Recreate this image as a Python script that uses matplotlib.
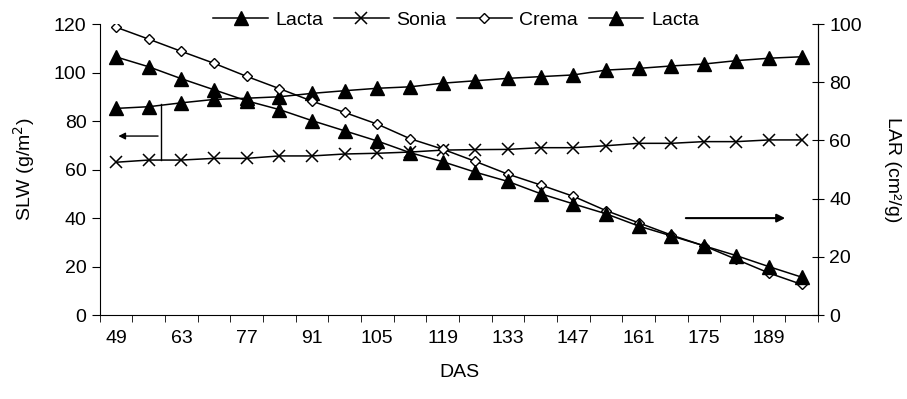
import matplotlib.pyplot as plt
import numpy as np

plt.rcParams['font.family'] = ['Liberation Sans', 'DejaVu Sans']
plt.rcParams['font.size'] = 14

das = list(range(49, 197, 7))

# SLW (left axis)
lacta_slw = [85.2, 85.9, 87.5, 88.9, 89.4, 90.0, 91.4, 92.5, 93.5, 94.1, 95.6, 96.6,
             97.6, 98.3, 99.0, 101.0, 101.7, 102.7, 103.5, 104.9, 105.9, 106.5]
sonia_slw = [63.0, 63.9, 63.9, 64.6, 64.6, 65.6, 65.6, 66.4, 66.7, 67.2, 68.0, 68.2,
             68.3, 69.0, 69.0, 69.8, 70.8, 70.8, 71.5, 71.5, 72.2, 72.2]
# LAR (right axis)
crema_lar = [98.9, 94.8, 90.6, 86.5, 82.0, 77.8, 73.5, 69.6, 65.6, 60.6, 57.0, 52.8,
             48.4, 44.7, 40.8, 35.9, 31.7, 27.5, 23.8, 19.1, 14.4, 10.5]
lacta_lar = [88.7, 85.3, 81.2, 77.4, 73.6, 70.6, 66.8, 63.3, 59.8, 55.8, 52.7, 49.1,
             45.9, 41.7, 38.2, 34.8, 30.6, 27.2, 23.8, 20.4, 16.6, 13.0]

x = np.arange(len(das))

fig = plt.figure(figsize=(9.07, 3.99), dpi=100)
ax = fig.add_axes([0.110, 0.2105, 0.792, 0.7293])
ax2 = ax.twinx()

l1, = ax.plot(x, lacta_slw, 'k-', marker='^', ms=9.5, lw=1.1, label='Lacta')
l2, = ax.plot(x, sonia_slw, 'k-', marker='x', ms=8.5, mew=1.1, lw=1.1, label='Sonia')
l3, = ax2.plot(x, crema_lar, 'k-', marker='D', ms=5.5, mfc='white', mew=1, lw=1.1, label='Crema')
l4, = ax2.plot(x, lacta_lar, 'k-', marker='^', ms=9.5, lw=1.1, label='Lacta')

ax.set_xlim(-0.5, len(das) - 0.5)
ax.set_ylim(0, 120)
ax.set_yticks(np.arange(0, 121, 20))
ax2.set_ylim(0, 100)
ax2.set_yticks(np.arange(0, 101, 20))

ax.set_xticks(x[::2])
ax.set_xticklabels([str(d) for d in das[::2]])
ax.set_xticks(np.arange(-0.5, len(das), 1), minor=True)
ax.tick_params(axis='x', which='major', length=0, pad=11)
ax.tick_params(axis='x', which='minor', length=5, direction='out')
ax.tick_params(axis='y', length=6, direction='out')
ax2.tick_params(axis='y', length=9, direction='inout')

for a in (ax, ax2):
    a.spines['top'].set_visible(False)
ax2.spines['left'].set_visible(False)
ax2.spines['bottom'].set_visible(False)

ax.set_xlabel('DAS', labelpad=12)
ax.set_ylabel('SLW (g/m$^2$)', labelpad=12)
ax2.set_ylabel('LAR (cm²/g)', rotation=-90, labelpad=28)

# arrows pointing to the axes
ax.plot([0.085, 0.085], [0.533, 0.725], 'k-', lw=1, transform=ax.transAxes)
ax.annotate('', xy=(0.022, 0.615), xytext=(0.085, 0.615), xycoords='axes fraction',
            arrowprops=dict(arrowstyle='-|>', color='k', lw=1, mutation_scale=10))
ax.annotate('', xy=(0.958, 0.333), xytext=(0.812, 0.333), xycoords='axes fraction',
            arrowprops=dict(arrowstyle='-|>', color='k', lw=1.5, mutation_scale=12))

fig.legend([l1, l2, l3, l4], ['Lacta', 'Sonia', 'Crema', 'Lacta'], loc='center',
           bbox_to_anchor=(0.503, 0.95), ncol=4, frameon=False, handlelength=2.8,
           columnspacing=0.55, handletextpad=0.4)

fig.savefig('out.png', dpi=100)
